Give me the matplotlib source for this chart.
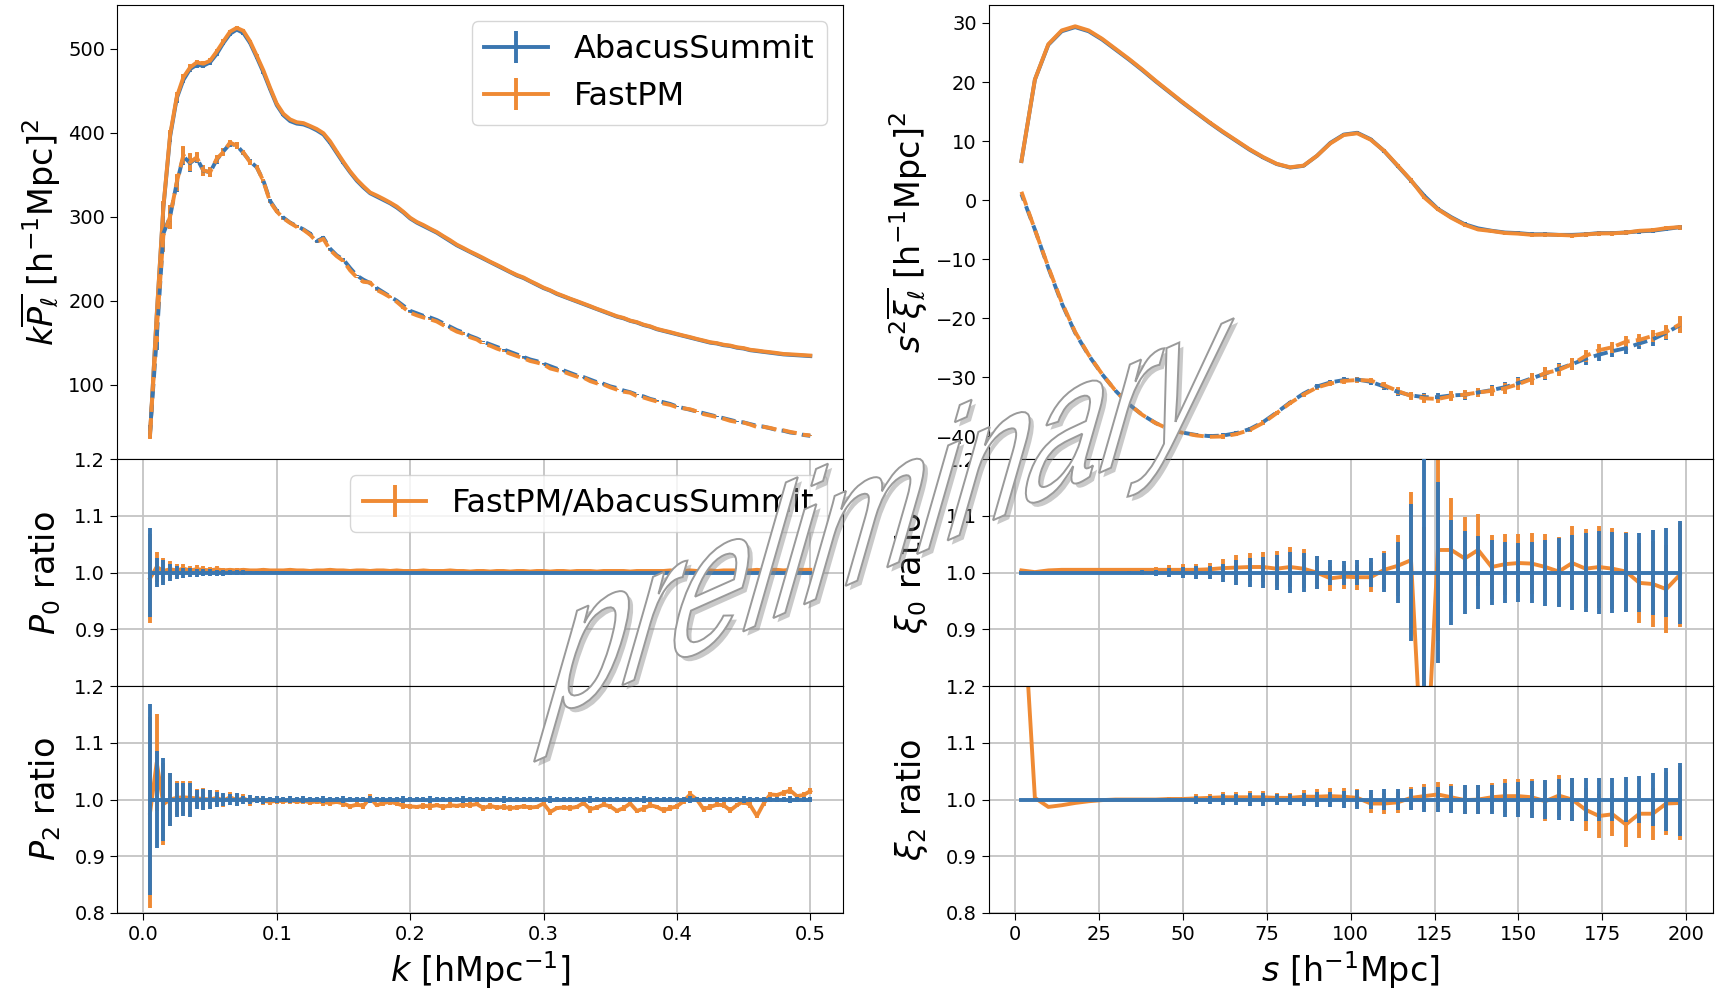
import numpy as np
import matplotlib.pyplot as plt
import matplotlib.patheffects as pe
from matplotlib.textpath import TextPath
from matplotlib.font_manager import FontProperties
from matplotlib.patches import PathPatch
from matplotlib.transforms import Affine2D, IdentityTransform

# ---- power spectrum multipoles (AbacusSummit), k = 0.005 ... 0.5
k = np.linspace(0.005, 0.5, 100)
kP0 = [40, 182, 311, 395, 441, 463, 476, 481, 480, 484,
       494, 507, 518, 523, 519, 507, 490, 472, 452, 433,
       421, 414, 411, 410, 407, 403, 398, 388, 376, 364,
       353, 343, 335, 328, 324, 320, 316, 311, 305, 298,
       293, 289, 285, 281, 276, 271, 266, 262, 258, 254,
       250, 246, 242, 238, 234, 230, 227, 223, 219, 215,
       212, 208, 205, 202, 199, 196, 193, 190, 187, 184,
       181, 179, 176, 174, 171, 169, 166, 164, 162, 160,
       158, 156, 154, 152, 150, 149, 147, 146, 144, 143,
       141, 140, 139, 138, 137, 136, 135.5, 135, 134.5, 134]
kP2 = [44, 155, 280, 300, 340, 372, 364, 370, 355, 353,
       368, 378, 387, 385, 376, 366, 359, 343, 319, 307,
       299, 293, 289, 285, 280, 271, 275, 262, 254, 249,
       239, 230, 225, 221, 215, 210, 205, 200, 194, 188,
       185, 182, 180, 177, 173, 169, 165, 162, 158, 155,
       151, 148, 145, 142, 139, 136, 133, 130, 128, 125,
       122, 119, 117, 114, 111, 109, 106, 103, 101, 98,
       96, 93, 91, 88, 86, 83, 81, 79, 77, 74,
       72, 70, 68, 66, 64, 62, 60, 58, 56, 55,
       53, 51, 50, 48, 46, 45, 43, 42, 40, 39]

# FastPM / AbacusSummit ratios
P0_ratio = [0.990, 1.010, 1.003, 1.006, 1.004, 1.007, 1.004, 1.006, 1.005, 1.004,
            1.006, 1.004, 1.005, 1.004, 1.005, 1.004, 1.004, 1.005, 1.004, 1.004,
            1.004, 1.005, 1.004, 1.004, 1.003, 1.004, 1.004, 1.005, 1.004, 1.004,
            1.003, 1.004, 1.004, 1.003, 1.004, 1.004, 1.003, 1.004, 1.003, 1.003,
            1.003, 1.004, 1.003, 1.003, 1.003, 1.004, 1.003, 1.003, 1.002, 1.003,
            1.003, 1.002, 1.003, 1.003, 1.002, 1.003, 1.003, 1.002, 1.003, 1.003,
            1.002, 1.003, 1.003, 1.002, 1.003, 1.003, 1.003, 1.002, 1.003, 1.003,
            1.003, 1.003, 1.002, 1.003, 1.003, 1.003, 1.003, 1.003, 1.004, 1.003,
            1.003, 1.004, 1.003, 1.004, 1.004, 1.003, 1.004, 1.004, 1.004, 1.004,
            1.004, 1.005, 1.004, 1.005, 1.005, 1.004, 1.005, 1.005, 1.005, 1.005]
P2_ratio = [0.977, 1.065, 0.992, 1.000, 1.003, 1.004, 1.003, 1.002, 1.001, 1.000,
            1.003, 0.998, 1.004, 0.999, 1.002, 0.997, 1.001, 0.998, 0.996, 0.998,
            0.997, 0.999, 0.996, 0.998, 0.995, 0.997, 0.995, 0.994, 0.996, 0.993,
            0.988, 0.991, 0.989, 1.003, 0.990, 0.994, 0.996, 0.993, 0.989, 0.988,
            0.987, 0.989, 0.988, 0.990, 0.987, 0.990, 0.989, 0.991, 0.990, 0.992,
            0.985, 0.989, 0.986, 0.987, 0.985, 0.986, 0.988, 0.986, 0.987, 0.993,
            0.978, 0.985, 0.986, 0.985, 0.987, 0.994, 0.983, 0.986, 0.991, 0.988,
            0.980, 0.985, 0.993, 0.980, 0.984, 0.990, 0.987, 0.981, 0.985, 0.988,
            0.997, 1.009, 1.000, 0.983, 0.987, 0.991, 0.990, 0.981, 0.990, 0.997,
            0.990, 0.971, 0.993, 1.009, 1.008, 1.012, 1.016, 1.006, 1.008, 1.015]
# relative errors
P0_err = [0.078, 0.026, 0.022, 0.015, 0.012, 0.009, 0.008, 0.007, 0.006, 0.006,
          0.005, 0.005, 0.004, 0.004, 0.004, 0.003, 0.003, 0.003, 0.003, 0.003,
          0.003, 0.002, 0.003, 0.002, 0.002, 0.002, 0.002, 0.002, 0.002, 0.002,
          0.002, 0.002, 0.002, 0.002, 0.002, 0.002, 0.002, 0.002, 0.002, 0.002,
          0.002, 0.002, 0.002, 0.002, 0.002, 0.002, 0.002, 0.002, 0.002, 0.002,
          0.002, 0.002, 0.002, 0.002, 0.002, 0.002, 0.002, 0.002, 0.002, 0.002,
          0.002, 0.002, 0.002, 0.002, 0.002, 0.002, 0.002, 0.002, 0.002, 0.002,
          0.002, 0.002, 0.002, 0.002, 0.002, 0.002, 0.002, 0.002, 0.002, 0.002,
          0.002, 0.002, 0.002, 0.002, 0.002, 0.002, 0.002, 0.002, 0.002, 0.002,
          0.002, 0.002, 0.002, 0.002, 0.002, 0.002, 0.002, 0.002, 0.002, 0.002]
P2_err = [0.169, 0.086, 0.073, 0.047, 0.030, 0.029, 0.030, 0.016, 0.019, 0.017,
          0.013, 0.012, 0.009, 0.011, 0.007, 0.008, 0.006, 0.007, 0.005, 0.006,
          0.005, 0.006, 0.004, 0.006, 0.005, 0.004, 0.006, 0.005, 0.004, 0.006,
          0.005, 0.004, 0.005, 0.006, 0.004, 0.005, 0.005, 0.004, 0.006, 0.005,
          0.004, 0.005, 0.006, 0.004, 0.005, 0.005, 0.004, 0.006, 0.005, 0.004,
          0.005, 0.005, 0.004, 0.006, 0.005, 0.004, 0.005, 0.005, 0.004, 0.005,
          0.006, 0.004, 0.005, 0.005, 0.004, 0.005, 0.006, 0.004, 0.005, 0.005,
          0.004, 0.005, 0.005, 0.004, 0.006, 0.005, 0.004, 0.005, 0.005, 0.004,
          0.005, 0.006, 0.004, 0.005, 0.005, 0.004, 0.005, 0.005, 0.004, 0.006,
          0.005, 0.004, 0.005, 0.005, 0.004, 0.005, 0.006, 0.004, 0.005, 0.005]

# ---- correlation function multipoles (AbacusSummit), s = 2 ... 198
s = np.arange(2, 200, 4)
s2xi0 = [6.6, 20.4, 26.3, 28.6, 29.3, 28.6, 27.2, 25.5, 23.8, 22.0,
         20.1, 18.3, 16.5, 14.8, 13.1, 11.5, 10.0, 8.5, 7.2, 6.1,
         5.5, 5.8, 7.5, 9.7, 11.1, 11.4, 10.3, 8.3, 5.8, 3.3,
         0.7, -1.5, -2.9, -4.1, -4.8, -5.2, -5.5, -5.6, -5.8, -5.8,
         -5.9, -5.9, -5.8, -5.6, -5.6, -5.5, -5.3, -5.2, -4.9, -4.6]
s2xi2 = [1.0, -5.0, -11.5, -17.5, -22.5, -26.3, -29.5, -32.3, -34.6, -36.4,
         -37.8, -38.8, -39.4, -39.8, -40.0, -39.9, -39.5, -38.8, -37.6, -36.0,
         -34.3, -32.8, -31.6, -30.9, -30.5, -30.4, -30.8, -31.6, -32.5, -33.1,
         -33.4, -33.4, -33.1, -33.0, -32.6, -32.2, -31.7, -31.0, -30.2, -29.4,
         -28.6, -27.8, -26.9, -26.2, -25.6, -25.1, -24.3, -23.6, -22.5, -21.2]
xi0_ratio = [1.004, 1.001, 1.004, 1.005, 1.005, 1.005, 1.005, 1.005, 1.005, 1.005,
             1.005, 1.005, 1.005, 1.005, 1.006, 1.008, 1.009, 1.010, 1.010, 1.007,
             1.010, 1.007, 1.000, 0.990, 0.993, 0.992, 0.992, 1.005, 1.012, 1.022,
             0.580, 1.040, 1.040, 1.025, 1.040, 1.010, 1.015, 1.017, 1.016, 1.010,
             1.002, 1.017, 1.007, 1.010, 1.007, 1.002, 0.982, 0.980, 0.971, 0.996]
xi2_ratio = [1.400, 1.003, 0.987, 0.990, 0.994, 0.997, 0.999, 1.000, 1.000, 1.000,
             1.000, 1.001, 1.001, 1.002, 1.003, 1.004, 1.004, 1.004, 1.004, 1.003,
             1.003, 1.005, 1.005, 1.006, 1.005, 1.003, 0.993, 0.993, 0.995, 1.003,
             1.006, 1.009, 1.004, 0.999, 1.000, 1.004, 1.006, 1.006, 1.004, 0.997,
             1.007, 1.000, 0.982, 0.971, 0.974, 0.956, 0.975, 0.975, 0.993, 0.994]
xi0_err = [0.001, 0.001, 0.001, 0.001, 0.001, 0.002, 0.002, 0.002, 0.003, 0.004,
           0.005, 0.008, 0.010, 0.011, 0.011, 0.016, 0.022, 0.025, 0.027, 0.031,
           0.036, 0.034, 0.029, 0.022, 0.021, 0.022, 0.026, 0.034, 0.054, 0.121,
           0.500, 0.160, 0.092, 0.073, 0.064, 0.057, 0.054, 0.052, 0.054, 0.058,
           0.061, 0.066, 0.070, 0.073, 0.071, 0.070, 0.070, 0.075, 0.078, 0.091]
xi2_err = [0.0005, 0.001, 0.001, 0.001, 0.001, 0.001, 0.001, 0.001, 0.001, 0.001,
           0.001, 0.003, 0.003, 0.007, 0.007, 0.009, 0.009, 0.011, 0.011, 0.009,
           0.009, 0.011, 0.013, 0.014, 0.015, 0.016, 0.016, 0.018, 0.019, 0.019,
           0.022, 0.022, 0.024, 0.025, 0.025, 0.026, 0.030, 0.031, 0.032, 0.035,
           0.036, 0.038, 0.038, 0.038, 0.038, 0.040, 0.042, 0.046, 0.055, 0.065]

blue = '#3a76b0'
orange = '#ef8a34'
lw = 2.8

plt.rcParams['font.family'] = ['DejaVu Sans']

fig = plt.figure(figsize=(17.21, 9.94), dpi=100)
gl = fig.add_gridspec(3, 1, height_ratios=[2, 1, 1], hspace=0,
                      left=0.068, right=0.490, top=0.9945, bottom=0.0815)
gr = fig.add_gridspec(3, 1, height_ratios=[2, 1, 1], hspace=0,
                      left=0.5744, right=0.9951, top=0.9945, bottom=0.0815)
axl = [fig.add_subplot(gl[0])]
axl += [fig.add_subplot(gl[i], sharex=axl[0]) for i in (1, 2)]
axr = [fig.add_subplot(gr[0])]
axr += [fig.add_subplot(gr[i], sharex=axr[0]) for i in (1, 2)]


def top_panel(ax, x, y0, r0, e0, y2, r2, e2, labels=False):
    y0, r0, e0 = np.array(y0), np.array(r0), np.array(e0)
    y2, r2, e2 = np.array(y2), np.array(r2), np.array(e2)
    ax.errorbar(x, y0, yerr=np.abs(y0 * e0), color=blue, lw=lw,
                label='AbacusSummit' if labels else None)
    ax.errorbar(x, y0 * r0, yerr=np.abs(y0 * r0 * e0), color=orange, lw=lw,
                label='FastPM' if labels else None)
    ax.errorbar(x, y2, yerr=np.abs(y2 * e2), color=blue, lw=lw, ls=(2.0, (3.7, 1.6)))
    ax.errorbar(x, y2 * r2, yerr=np.abs(y2 * r2 * e2), color=orange, lw=lw, ls='--')
    plt.setp(ax.get_xticklabels(), visible=False)


def ratio_panel(ax, x, r, e, yticks, label=None):
    ax.errorbar(x, r, yerr=e, color=orange, lw=lw, label=label, zorder=2)
    ax.errorbar(x, np.ones(len(x)), yerr=e, color=blue, lw=lw, zorder=3)
    ax.set_ylim(0.8, 1.2)
    ax.set_yticks(yticks)
    ax.grid(True, color='#c4c4c4', lw=1.3)


top_panel(axl[0], k, kP0, P0_ratio, P0_err, kP2, P2_ratio, P2_err, labels=True)
top_panel(axr[0], s, s2xi0, xi0_ratio, xi0_err, s2xi2, xi2_ratio, xi2_err)
axl[0].legend(loc='upper right', fontsize=23)

ratio_panel(axl[1], k, P0_ratio, P0_err, [0.9, 1.0, 1.1, 1.2], label='FastPM/AbacusSummit')
ratio_panel(axl[2], k, P2_ratio, P2_err, [0.8, 0.9, 1.0, 1.1, 1.2])
ratio_panel(axr[1], s, xi0_ratio, xi0_err, [0.9, 1.0, 1.1, 1.2])
ratio_panel(axr[2], s, xi2_ratio, xi2_err, [0.8, 0.9, 1.0, 1.1, 1.2])
axl[1].legend(loc='upper right', fontsize=23)
plt.setp(axl[1].get_xticklabels(), visible=False)
plt.setp(axr[1].get_xticklabels(), visible=False)
axr[2].set_xticks([0, 25, 50, 75, 100, 125, 150, 175, 200])

lab = 24
axl[0].set_ylabel(r'$k\overline{P_\ell}\ [\mathrm{h}^{-1}\mathrm{Mpc}]^2$', fontsize=lab)
axl[1].set_ylabel(r'$P_0$ ratio', fontsize=lab)
axl[2].set_ylabel(r'$P_2$ ratio', fontsize=lab)
axl[2].set_xlabel(r'$k\ [\mathrm{hMpc}^{-1}]$', fontsize=lab)
axr[0].set_ylabel(r'$s^2\overline{\xi_\ell}\ [\mathrm{h}^{-1}\mathrm{Mpc}]^2$', fontsize=lab)
axr[1].set_ylabel(r'$\xi_0$ ratio', fontsize=lab)
axr[2].set_ylabel(r'$\xi_2$ ratio', fontsize=lab)
axr[2].set_xlabel(r'$s\ [\mathrm{h}^{-1}\mathrm{Mpc}]$', fontsize=lab)
for ax in axl + axr:
    ax.tick_params(labelsize=14, length=5)
fig.align_ylabels(axl)
fig.align_ylabels(axr)

# "preliminary" watermark: outline letters, slanted
tp = TextPath((0, 0), 'preliminary', size=1,
              prop=FontProperties(family='Liberation Sans'))
path = Affine2D().scale(1, 1.1).skew_deg(40, 0).rotate_deg(24).transform_path(tp)
bb = path.get_extents()
sc = 700 / bb.width
place = (Affine2D().translate(-(bb.x0 + bb.width / 2), -(bb.y0 + bb.height / 2))
         .scale(sc).translate(884, 994 - 540))
mark = PathPatch(place.transform_path(path), facecolor='white', edgecolor='#9a9a9a',
                 lw=1.4, transform=IdentityTransform(), zorder=10)
mark.set_path_effects([pe.SimplePatchShadow(offset=(3, -3), shadow_rgbFace='#888888', alpha=0.45),
                       pe.Normal()])
fig.add_artist(mark)

fig.savefig('out.png', dpi=100)
